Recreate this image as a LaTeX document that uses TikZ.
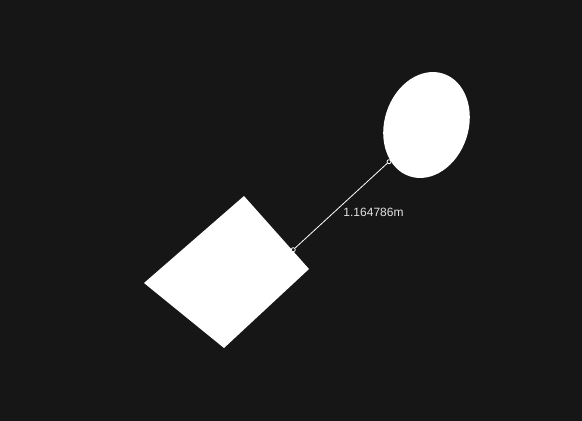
\documentclass[tikz,border=0pt]{standalone}
\usepackage{fontspec}
\setmainfont{Liberation Sans}
\usetikzlibrary{positioning,calc,shapes.geometric}
\definecolor{bgdark}{HTML}{161616}
\definecolor{shapewhite}{HTML}{FFFFFF}
\definecolor{labelgrey}{HTML}{E2E2E2}
\tikzset{
  solid/.style  ={fill=shapewhite, draw=none},
  blob/.style   ={solid, ellipse, minimum width=84pt, minimum height=108pt,
                  inner sep=0pt},
  endmark/.style={draw=shapewhite, fill=bgdark, line width=0.8pt,
                  circle, minimum size=4pt, inner sep=0pt},
  measure/.style={draw=shapewhite, line width=0.8pt},
  dimlabel/.style={font=\fontsize{12}{14}\selectfont, text=labelgrey,
                   inner sep=0pt},
}

\begin{document}
\begin{tikzpicture}[x=1pt, y=-1pt]
  \fill[bgdark] (0,0) rectangle (582,421);
  \useasboundingbox (0,0) rectangle (582,421);

  % quadrilateral
  \coordinate (qtop) at (244,196);
  \coordinate (qright) at (309,269);
  \coordinate (qbottom) at (224,348);
  \coordinate (qleft) at (144,283);
  \fill[shapewhite] (qtop) -- (qright) -- (qbottom) -- (qleft) -- cycle;

  % ellipse
  \node[blob, rotate=-18] (oval) at (426.5,125) {};

  % measurement
  \node[endmark] (pa) at (293.3,249.7) {};
  \node[endmark] (pb) at (389,161.7) {};
  \draw[measure] (pa) -- (pb);
  \node[dimlabel] (len) at (373.5,212) {1.164786m};
\end{tikzpicture}
\end{document}
